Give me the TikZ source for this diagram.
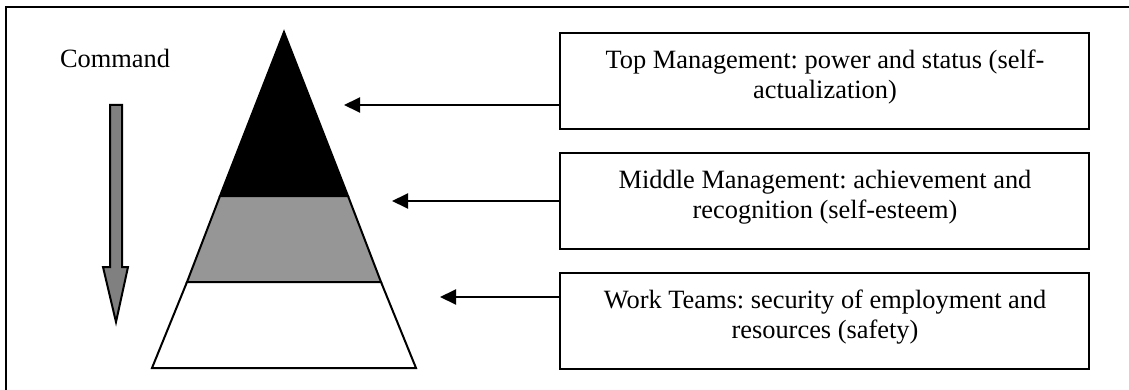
\documentclass[tikz,border=0pt]{standalone}
\usepackage{fontspec}
\setmainfont{Liberation Serif}
\usetikzlibrary{arrows.meta}
\definecolor{midgray}{HTML}{969696}
\definecolor{arrowgray}{HTML}{808080}
\frenchspacing
\begin{document}
\begin{tikzpicture}[x=0.5pt,y=-0.5pt,
  lbox/.style={draw, line width=1pt, minimum width=264.5pt, minimum height=48pt, inner sep=0pt},
  ltext/.style={anchor=north, inner sep=0pt, align=center, font=\fontsize{13.2}{15}\selectfont},
  conn/.style={line width=1pt, -{Triangle[length=8pt,width=7.5pt]}},
  tier/.style={draw, line width=1pt, line join=miter}
]
\useasboundingbox (0,0) rectangle (1129,390);
% outer frame (top and left edges)
\draw[line width=1pt] (6,390) -- (6,7) -- (1129,7);
% Command label and arrow
\node[font=\fontsize{13.2}{15}\selectfont, anchor=base, inner sep=0pt] (cmd) at (115,68) {Command};
\draw[line width=1pt, fill=arrowgray, line join=miter] (110,105) -- (122,105) -- (122,267) -- (128,267) -- (116,322) -- (103,267) -- (110,267) -- cycle;
% pyramid
\draw[tier, fill=black] (284,32) -- (348,196) -- (220,196) -- cycle;
\draw[tier, fill=midgray] (220,196) -- (348,196) -- (381,282) -- (187,282) -- cycle;
\draw[tier, fill=white] (187,282) -- (381,282) -- (416,368) -- (152,368) -- cycle;
% boxes
\node[lbox] (top) at (824.5,81) {};
\node[lbox] (mid) at (824.5,201) {};
\node[lbox] (bot) at (824.5,320.5) {};
\node[ltext] (topT) at (825,48) {\rule{0pt}{10pt}Top Management: power and status (self-\\actualization)};
\node[ltext] (midT) at (825,168) {\rule{0pt}{10pt}Middle Management: achievement and\\recognition (self-esteem)};
\node[ltext] (botT) at (825,288) {\rule{0pt}{10pt}Work Teams: security of employment and\\resources (safety)};
% arrow tips
\coordinate (tTop) at (344,105);
\coordinate (tMid) at (392,201);
\coordinate (tBot) at (440,297);
\draw[conn] (top.west |- tTop) -- (tTop);
\draw[conn] (mid.west |- tMid) -- (tMid);
\draw[conn] (bot.west |- tBot) -- (tBot);
\end{tikzpicture}
\end{document}
